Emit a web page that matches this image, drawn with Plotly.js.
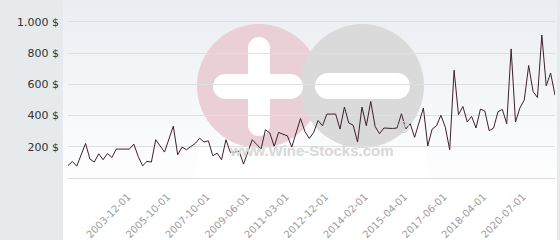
<!DOCTYPE html>
<html>
<head>
<meta charset="utf-8">
<script src="https://cdn.plot.ly/plotly-3.0.1.min.js"></script>
<style>
html,body{margin:0;padding:0;background:#fff;}
#chart{width:560px;height:240px;}
</style>
</head>
<body>
<div id="chart"></div>
<script>
// Price series (one value per auction date, in order)
const prices = [
  80, 106, 76, 148, 221, 121, 102, 155, 117, 157,
  131, 185, 185, 185, 185, 217, 138, 78, 106, 102,
  245, 205, 166, 249, 332, 149, 198, 181, 202, 221,
  255, 230, 238, 142, 159, 117, 245, 164, 166, 172,
  89, 170, 245, 215, 185, 309, 288, 202, 292, 280,
  270, 198, 290, 381, 298, 253, 292, 368, 334, 409,
  409, 409, 313, 454, 352, 338, 230, 454, 334, 490,
  330, 283, 320, 317, 317, 320, 411, 313, 347, 260,
  350, 448, 205, 313, 334, 402, 325, 181, 690, 405,
  458, 359, 394, 320, 441, 429, 303, 320, 424, 439,
  347, 826, 358, 448, 500, 720, 554, 515, 915, 590,
  672, 530
];
// Dates shown as x tick labels
const tickLabels = ['2003-12-01','2005-10-01','2007-10-01','2009-06-01','2011-03-01',
  '2012-12-01','2014-02-01','2015-04-01','2017-06-01','2018-04-01','2020-07-01'];
const firstTickIndex = 13;
const tickStep = 9;
const yTicks = [200, 400, 600, 800, 1000];

const idx = prices.map((_, i) => i);
const tickVals = tickLabels.map((_, k) => firstTickIndex + k * tickStep);
const yTickText = yTicks.map(v => String(v).replace(/\B(?=(\d{3})+(?!\d))/g, '.') + ' $');

// pixel -> paper helpers for decoration
const L = 68, R = 5, T = 20, B = 62, W = 560, H = 240;
const PW = W - L - R, PH = H - T - B;
const px = x => (x - L) / PW;
const py = y => (H - B - y) / PH;

const gradSvg = '<svg xmlns="http://www.w3.org/2000/svg" width="100" height="100" preserveAspectRatio="none">' +
  '<defs><linearGradient id="g" x1="0" y1="0" x2="0" y2="1">' +
  '<stop offset="0" stop-color="#eaedf2"/><stop offset="0.78" stop-color="#ffffff"/></linearGradient></defs>' +
  '<rect width="100" height="100" fill="url(#g)"/></svg>';

function circle(cx, cy, r, color) {
  return {type:'circle', xref:'paper', yref:'paper', layer:'below',
    x0:px(cx-r), x1:px(cx+r), y0:py(cy+r), y1:py(cy-r),
    fillcolor:color, line:{width:0}};
}
function rect(x0, y0, x1, y1, color) {
  return {type:'rect', xref:'paper', yref:'paper', layer:'below',
    x0:px(x0), x1:px(x1), y0:py(y1), y1:py(y0),
    fillcolor:color, line:{width:0}};
}
function pill(x0, y0, x1, y1, color) {
  const r = (y1 - y0) / 2;
  return [rect(x0 + r, y0, x1 - r, y1, color),
          circle(x0 + r, y0 + r, r, color), circle(x1 - r, y0 + r, r, color)];
}
function vpill(x0, y0, x1, y1, color) {
  const r = (x1 - x0) / 2;
  return [rect(x0, y0 + r, x1, y1 - r, color),
          circle(x0 + r, y0 + r, r, color), circle(x0 + r, y1 - r, r, color)];
}

const shapes = [
  circle(259, 86, 62, '#eacfd6'),
  circle(362, 86, 62, '#dadadb'),
  ...vpill(248, 37, 270, 136, '#ffffff'),
  ...pill(213, 74, 303, 99, '#ffffff'),
  ...pill(315, 73, 410, 99, '#ffffff'),
  rect(197, 148, 427, 178, 'rgba(255,255,255,0.55)')
];

const trace = {
  x: idx, y: prices, type: 'scatter', mode: 'lines',
  line: {color: '#3e2130', width: 1},
  hoverinfo: 'skip'
};

const layout = {
  width: W, height: H,
  margin: {l: L, r: R, t: T, b: B},
  paper_bgcolor: '#e6eaed',
  plot_bgcolor: 'rgba(0,0,0,0)',
  showlegend: false,
  font: {family: 'DejaVu Sans', size: 11, color: '#333'},
  xaxis: {
    range: [0, prices.length - 1],
    tickmode: 'array', tickvals: tickVals, ticktext: tickLabels,
    tickangle: -45, showgrid: false, zeroline: false,
    showline: true, linecolor: '#dcdcdc', linewidth: 1,
    ticks: '', ticklabelstandoff: 8, ticklabelshift: 3,
    tickfont: {family: 'DejaVu Sans', size: 10, color: '#9c9c9c'},
    fixedrange: true
  },
  yaxis: {
    range: [0, PH / 0.15625],
    tickmode: 'array', tickvals: yTicks, ticktext: yTickText,
    showgrid: true, gridcolor: '#dfdfdf', gridwidth: 1,
    zeroline: false, showline: false, ticks: '',
    ticklabelstandoff: 8,
    tickfont: {family: 'DejaVu Sans', size: 11, color: '#333'},
    fixedrange: true
  },
  images: [{
    source: 'data:image/svg+xml;charset=utf-8,' + encodeURIComponent(gradSvg),
    xref: 'paper', yref: 'paper', x: px(63), y: py(0),
    sizex: (557 - 63) / PW, sizey: H / PH,
    xanchor: 'left', yanchor: 'top', sizing: 'stretch', layer: 'below'
  }],
  shapes: shapes,
  annotations: [
    {text: '<b>www.Wine-Stocks.com</b>', xref: 'paper', yref: 'paper',
     x: px(311), y: py(161), showarrow: false,
     font: {family: 'Liberation Sans', size: 15, color: '#d8d8d8'}},
    {text: '®', xref: 'paper', yref: 'paper', x: px(413), y: py(139), showarrow: false,
     font: {family: 'DejaVu Sans', size: 15, color: '#cfcfcf'}}
  ]
};

Plotly.newPlot('chart', [trace], layout, {staticPlot: true, displayModeBar: false});
</script>
</body>
</html>
